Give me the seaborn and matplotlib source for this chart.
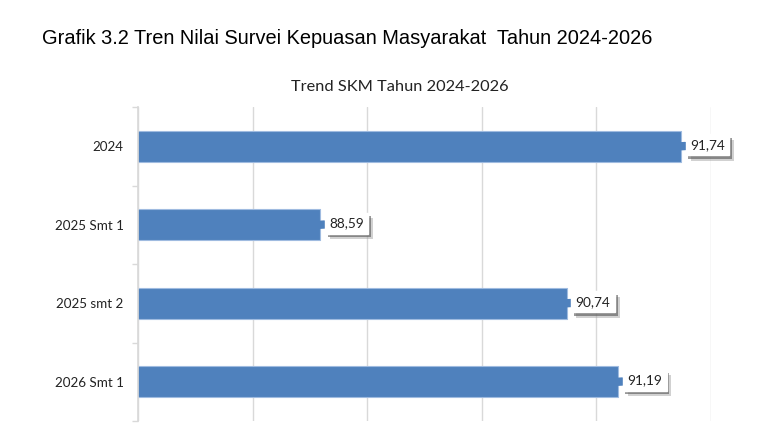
import matplotlib
matplotlib.use('Agg')
from matplotlib import pyplot as plt
from matplotlib import patheffects
import pandas as pd
import seaborn as sns

# data
categories = ['2024', '2025 Smt 1', '2025 smt 2', '2026 Smt 1']
skm_values = [91.74, 88.59, 90.74, 91.19]
value_labels = ['91,74', '88,59', '90,74', '91,19']
x_min, x_max = 87, 92

bar_color = '#4f81bd'
grid_color = '#d9d9d9'

sns.set_theme(style='white')
plt.rcParams['font.family'] = ['Lato', 'DejaVu Sans']

df = pd.DataFrame({'kategori': categories, 'nilai': skm_values})

fig = plt.figure(figsize=(7.59, 4.45), dpi=100)
ax = fig.add_axes([138 / 759, 24 / 445, 573 / 759, 314 / 445])

sns.barplot(data=df, x='nilai', y='kategori', orient='h', color=bar_color,
            width=0.4, saturation=1, ax=ax, zorder=2,
            edgecolor='#9fbbe0', linewidth=0.8)

ax.set_xlim(x_min, x_max)
ax.set_xticks(range(x_min, x_max + 1))
ax.set_xticklabels([])
ax.tick_params(axis='x', length=0)
ax.grid(axis='x', color=grid_color, linewidth=1, zorder=0)
ax.set_axisbelow(True)
ax.set_xlabel('')
ax.set_ylabel('')

# category separator ticks like the spreadsheet chart
ax.set_yticks([i - 0.5 for i in range(len(categories) + 1)], minor=True)
ax.tick_params(axis='y', which='minor', length=4, color=grid_color, width=1, direction='out', left=True)
ax.tick_params(axis='y', which='major', length=0, pad=10.5, labelsize=9.6, labelcolor='#222222')

for side in ['top', 'right', 'bottom']:
    ax.spines[side].set_visible(False)
ax.spines['left'].set_color(grid_color)

for i, (val, lab) in enumerate(zip(skm_values, value_labels)):
    ann = ax.annotate(
        lab, xy=(val, i), xytext=(9, 1.5), textcoords='offset pixels',
        ha='left', va='center', fontsize=9.8, color='#222222',
        bbox=dict(boxstyle='square,pad=0.33', facecolor='white', edgecolor='white'),
        arrowprops=dict(arrowstyle='-', lw=6, color=bar_color, shrinkA=0, shrinkB=0),
        zorder=5, annotation_clip=False,
    )
    ann.get_bbox_patch().set_path_effects([
        patheffects.SimplePatchShadow(offset=(3.5, -4), shadow_rgbFace='#999999', alpha=0.45),
        patheffects.SimplePatchShadow(offset=(2, -2.5), shadow_rgbFace='#555555', alpha=0.6),
        patheffects.Normal(),
    ])

fig.text(400 / 759, 1 - 87 / 445, 'Trend SKM Tahun 2024-2026', ha='center', va='center',
         fontsize=11.8, color='#222222')
fig.text(42 / 759, 1 - 38 / 445, 'Grafik 3.2 Tren Nilai Survei Kepuasan Masyarakat  Tahun 2024-2026',
         ha='left', va='center', fontsize=14.4, color='black', family=['Liberation Sans', 'DejaVu Sans'])

fig.savefig('out.png', dpi=100, facecolor='white')
